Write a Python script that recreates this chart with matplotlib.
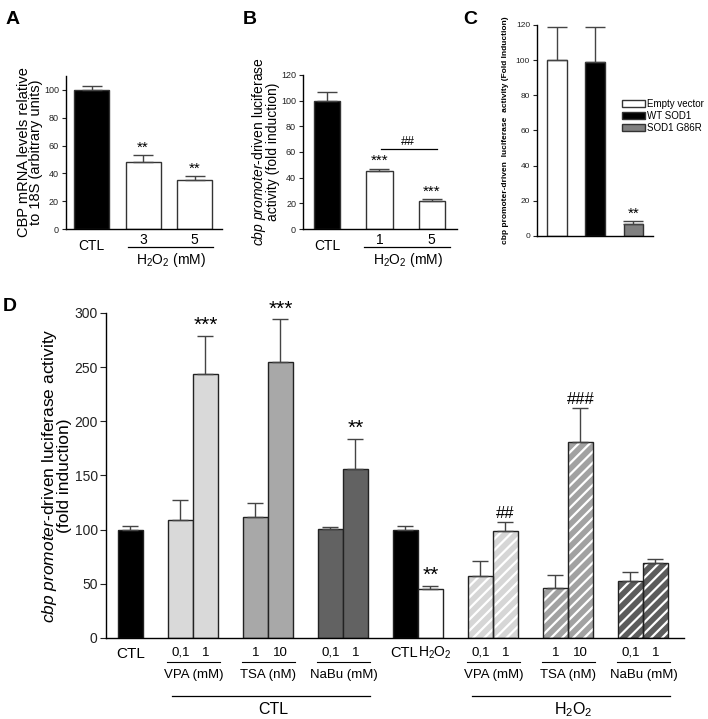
import numpy as np
import matplotlib
matplotlib.use("Agg")
import matplotlib.pyplot as plt
import matplotlib.transforms as mtrans
from matplotlib.patches import Patch

plt.rcParams['font.family'] = ['Liberation Sans', 'DejaVu Sans']
plt.rcParams['mathtext.fontset'] = 'custom'
plt.rcParams['mathtext.rm'] = 'Liberation Sans'
plt.rcParams['mathtext.it'] = 'Liberation Sans:italic'
plt.rcParams['hatch.linewidth'] = 1.6
plt.rcParams['axes.linewidth'] = 1.0

# ---- data ----
a_labels = ['CTL', '3', '5']
a_vals = [100, 48, 35]
a_err = [3, 5, 3]
a_sig = ['', '**', '**']

b_labels = ['CTL', '1', '5']
b_vals = [100, 45, 22]
b_err = [7, 2, 1]
b_sig = ['', '***', '***']

c_names = ['Empty vector', 'WT SOD1', 'SOD1 G86R']
c_vals = [100, 99, 7]
c_err = [19, 20, 1.5]
c_sig = ['', '', '**']

d_ctl = 100
d_ctl_err = 3
d_pair_ticks = [['0,1', '1'], ['1', '10'], ['0,1', '1'], ['CTL', 'H$_2$O$_2$'],
                ['0,1', '1'], ['1', '10'], ['0,1', '1']]
d_pair_names = ['VPA (mM)', 'TSA (nM)', 'NaBu (mM)', '', 'VPA (mM)', 'TSA (nM)', 'NaBu (mM)']
d_pair_vals = [[109, 244], [112, 255], [101, 156], [100, 45],
               [57, 99], [46, 181], [53, 69]]
d_pair_err = [[18, 35], [13, 39], [1, 28], [3, 3],
              [14, 8], [12, 31], [8, 4]]
d_pair_sig = [['', '***'], ['', '***'], ['', '**'], ['', '**'],
              ['', '##'], ['', '###'], ['', '']]

# styles
d_fill = ['#d9d9d9', '#a8a8a8', '#626262', None, '#d6d6d6', '#a2a2a2', '#5c5c5c']
d_hatched = [False, False, False, False, True, True, True]

fig = plt.figure(figsize=(7.08, 7.19), dpi=100)


def style_ax(ax, fs):
    for s in ['top', 'right']:
        ax.spines[s].set_visible(False)
    ax.tick_params(axis='x', length=0, labelbottom=False)
    ax.tick_params(axis='y', length=3, width=0.8, labelsize=fs, colors='#222222', pad=2)


def small_panel(rect, labels, vals, err, sig, ymax, ystep, width, xlim, colors,
                sub_txt, ylabel, ylfs, letter):
    ax = fig.add_axes(rect)
    x = np.arange(len(vals))
    ax.bar(x, vals, width=width, color=colors, edgecolor='#333333', linewidth=1.0,
           yerr=[np.zeros(len(vals)), err], capsize=7,
           error_kw=dict(ecolor='#444444', elinewidth=1.0, capthick=1.0))
    ax.set_xlim(*xlim)
    ax.set_ylim(0, ymax)
    ax.set_yticks(np.arange(0, ymax + 1, ystep))
    style_ax(ax, 6.5)
    for xi, v, e, s in zip(x, vals, err, sig):
        if s:
            ax.text(xi, v + e + 0.5, s, ha='center', va='bottom', fontsize=11)
    tr = mtrans.blended_transform_factory(ax.transData, ax.transAxes)
    ax.text(0, -0.11, labels[0], transform=tr, ha='center', va='center', fontsize=10)
    for xi in (1, 2):
        ax.text(xi, -0.07, labels[xi], transform=tr, ha='center', va='center', fontsize=10)
    ax.plot([0.7, 2.35], [-0.12, -0.12], transform=tr, color='k', lw=0.9, clip_on=False)
    ax.text(1.55, -0.2, sub_txt, transform=tr, ha='center', va='center', fontsize=10)
    ax.set_ylabel(ylabel, fontsize=ylfs, linespacing=0.75, labelpad=1)
    fig.text(rect[0] - 0.085, 0.985, letter, fontsize=14, fontweight='bold', va='top')
    return ax


# ---- A ----
small_panel([0.0932, 0.6815, 0.2203, 0.2128], a_labels, a_vals, a_err, a_sig,
            110, 20, 0.68, (-0.495, 2.53), ['black', 'white', 'white'],
            'H$_2$O$_2$ (mM)', 'CBP mRNA levels relative\nto 18S (arbitrary units)', 10.5, 'A')

# ---- B ----
axb = small_panel([0.428, 0.6815, 0.2175, 0.2142], b_labels, b_vals, b_err, b_sig,
                  120, 20, 0.5, (-0.47, 2.49), ['black', 'white', 'white'],
                  'H$_2$O$_2$ (mM)',
                  '$\\it{cbp\\ promoter}$-driven luciferase\nactivity (fold induction)', 10, 'B')
axb.plot([1.03, 2.1], [62, 62], color='k', lw=0.9)
axb.text(1.55, 63, '##', ha='center', va='bottom', fontsize=9)

# ---- C ----
axc = fig.add_axes([0.7585, 0.6718, 0.1638, 0.2935])
xc = np.arange(3)
c_cols = ['white', 'black', '#808080']
axc.bar(xc, c_vals, width=0.51, color=c_cols, edgecolor='#333333', linewidth=1.0,
        yerr=[np.zeros(3), c_err], capsize=7,
        error_kw=dict(ecolor='#444444', elinewidth=1.0, capthick=1.0))
axc.set_xlim(-0.52, 2.51)
axc.set_ylim(0, 120)
axc.set_yticks(np.arange(0, 121, 20))
style_ax(axc, 6)
for xi, v, e, s in zip(xc, c_vals, c_err, c_sig):
    if s:
        axc.text(xi, v + e + 0.3, s, ha='center', va='bottom', fontsize=11)
axc.set_ylabel('cbp promoter-driven  luciferase  activity (Fold Induction)',
               fontsize=6, fontweight='bold', labelpad=5)
handles = [Patch(facecolor=c, edgecolor='#333333', linewidth=1.0) for c in c_cols]
fig.legend(handles, c_names, loc='center left', bbox_to_anchor=(0.878, 0.839),
           frameon=False, fontsize=7, handlelength=2.4, handleheight=0.65,
           handletextpad=0.25, labelspacing=0.2, borderpad=0, borderaxespad=0)
fig.text(0.655, 0.985, 'C', fontsize=14, fontweight='bold', va='top')

# ---- D ----
axd = fig.add_axes([0.1497, 0.1127, 0.8164, 0.452])
bw = 1.0
err_kw = dict(ecolor='#444444', elinewidth=1.0, capthick=1.0)
axd.bar([0], [d_ctl], width=bw, color='black', edgecolor='#222222', lw=1.0,
        yerr=[[0], [d_ctl_err]], capsize=6, error_kw=err_kw)
tr = mtrans.blended_transform_factory(axd.transData, axd.transAxes)
axd.text(0, -0.05, 'CTL', transform=tr, ha='center', va='center', fontsize=11)
for k in range(len(d_pair_vals)):
    start = 2 + 3 * k
    xs = [start, start + 1]
    vals = d_pair_vals[k]
    errs = d_pair_err[k]
    if d_fill[k] is None:
        cols = ['black', 'white']
    else:
        cols = [d_fill[k], d_fill[k]]
    if d_hatched[k]:
        axd.bar(xs, vals, width=bw, color=cols, edgecolor='white', lw=0, hatch='///')
        axd.bar(xs, vals, width=bw, fill=False, edgecolor='#222222', lw=1.0,
                yerr=[[0, 0], errs], capsize=6, error_kw=err_kw)
    else:
        axd.bar(xs, vals, width=bw, color=cols, edgecolor='#222222', lw=1.0,
                yerr=[[0, 0], errs], capsize=6, error_kw=err_kw)
    for xi, v, e, s in zip(xs, vals, errs, d_pair_sig[k]):
        if s:
            fs = 15 if '*' in s else 12
            axd.text(xi, v + e + 1, s, ha='center', va='bottom', fontsize=fs)
    if d_pair_names[k]:
        for xi, t in zip(xs, d_pair_ticks[k]):
            axd.text(xi, -0.045, t, transform=tr, ha='center', va='center', fontsize=9.5)
        axd.plot([start - 0.55, start + 1.6], [-0.075, -0.075], transform=tr,
                 color='k', lw=0.8, clip_on=False)
        axd.text(start + 0.52, -0.115, d_pair_names[k], transform=tr, ha='center',
                 va='center', fontsize=9.5)
    else:
        axd.text(start + 0.5, -0.045, d_pair_ticks[k][0], transform=tr, ha='right',
                 va='center', fontsize=10.5)
        axd.text(start + 0.5, -0.045, d_pair_ticks[k][1], transform=tr, ha='left',
                 va='center', fontsize=10)

# group lines for CTL and H2O2 series
for first, last, name in [(2, 9, 'CTL'), (14, 21, 'H$_2$O$_2$')]:
    axd.plot([first - 0.35, last + 0.6], [-0.18, -0.18], transform=tr, color='k',
             lw=0.9, clip_on=False)
    axd.text((first + last) / 2 + 0.2, -0.22, name, transform=tr, ha='center',
             va='center', fontsize=11.5)

axd.set_xlim(-0.98, 22.14)
axd.set_ylim(0, 300)
axd.set_yticks(np.arange(0, 301, 50))
style_ax(axd, 10)
axd.tick_params(axis='y', length=4)
axd.set_ylabel('$\\it{cbp\\ promoter}$-driven luciferase activity\n(fold induction)',
               fontsize=12.5, linespacing=0.8, labelpad=2)
fig.text(0.004, 0.585, 'D', fontsize=14, fontweight='bold', va='top')

fig.savefig('out.png', dpi=100)
